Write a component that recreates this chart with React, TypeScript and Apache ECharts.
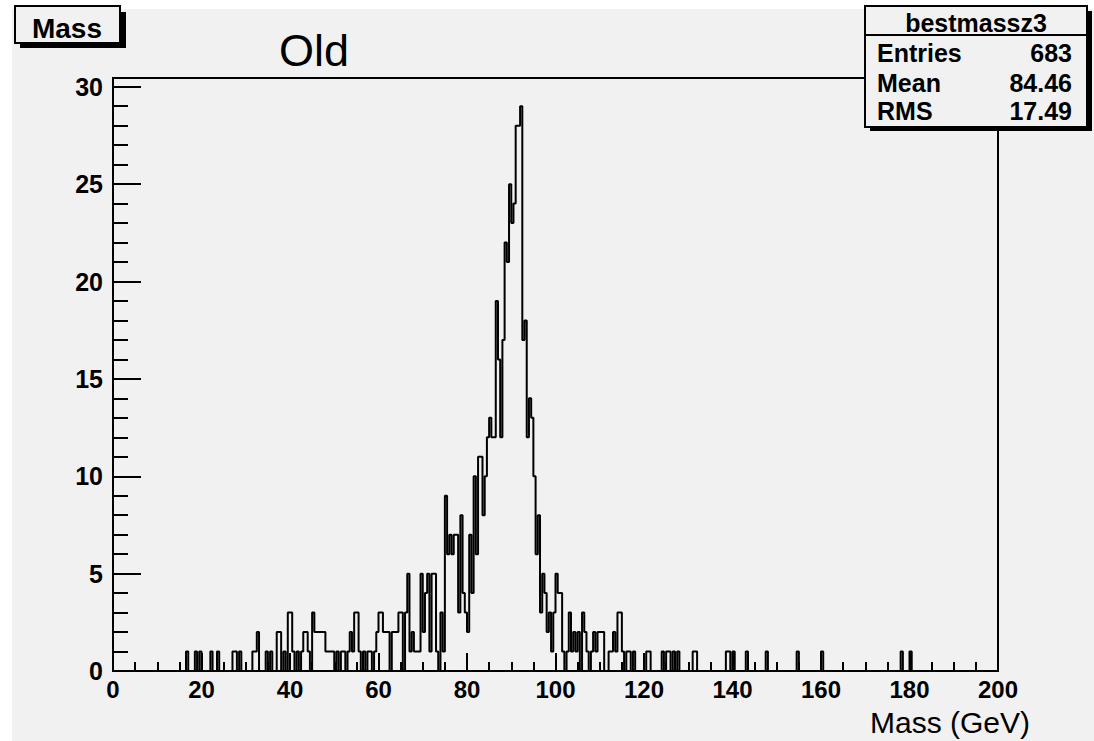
import React, { useEffect, useRef } from "react";
import * as echarts from "echarts";

// Histogram "bestmassz3": 0.5 GeV bins, counts per bin, grouped by 20 GeV
const binWidth = 0.5;
const bins0_20 = [
  0, 0, 0, 0, 0, 0, 0, 0, 0, 0, 0, 0, 0, 0, 0, 0, 0, 0, 0, 0,
  0, 0, 0, 0, 0, 0, 0, 0, 0, 0, 0, 0, 0, 1, 0, 0, 0, 1, 0, 1,
];
const bins20_40 = [
  0, 0, 0, 0, 1, 0, 0, 1, 0, 0, 0, 0, 0, 0, 1, 1, 0, 1, 0, 0,
  0, 0, 0, 1, 1, 2, 0, 0, 0, 1, 0, 1, 0, 0, 2, 2, 0, 1, 0, 3,
];
const bins40_60 = [
  3, 1, 0, 1, 0, 1, 2, 2, 1, 0, 3, 2, 2, 2, 2, 2, 1, 1, 1, 1,
  0, 1, 0, 1, 1, 0, 1, 2, 1, 3, 3, 1, 0, 1, 0, 1, 1, 0, 1, 2,
];
const bins60_80 = [
  3, 3, 2, 2, 2, 0, 2, 2, 2, 3, 3, 0, 3, 5, 1, 2, 1, 1, 1, 5,
  2, 4, 5, 1, 5, 5, 1, 0, 3, 1, 9, 6, 7, 6, 7, 7, 3, 8, 4, 3,
];
const bins80_100 = [
  2, 7, 4, 10, 6, 11, 11, 8, 10, 12, 13, 12, 12, 19, 16, 12, 17, 22, 21, 25,
  23, 24, 28, 28, 29, 17, 18, 12, 14, 13, 10, 6, 8, 3, 5, 4, 2, 3, 1, 3,
];
const bins100_120 = [
  5, 4, 4, 1, 0, 1, 3, 1, 2, 1, 2, 0, 3, 2, 1, 0, 1, 2, 1, 2,
  2, 2, 0, 0, 1, 1, 2, 1, 3, 3, 1, 0, 1, 1, 0, 1, 0, 0, 0, 0,
];
const bins120_140 = [
  0, 1, 1, 0, 0, 0, 0, 0, 1, 0, 1, 1, 0, 1, 0, 1, 0, 0, 0, 0,
  0, 0, 1, 1, 0, 0, 0, 0, 0, 0, 0, 0, 0, 0, 0, 0, 0, 1, 1, 0,
];
const bins140_160 = [
  1, 0, 0, 0, 0, 0, 1, 0, 0, 0, 0, 0, 0, 0, 0, 1, 0, 0, 0, 0,
  0, 0, 0, 0, 0, 0, 0, 0, 0, 1, 0, 0, 0, 0, 0, 0, 0, 0, 0, 0,
];
const bins160_180 = [
  1, 0, 0, 0, 0, 0, 0, 0, 0, 0, 0, 0, 0, 0, 0, 0, 0, 0, 0, 0,
  0, 0, 0, 0, 0, 0, 0, 0, 0, 0, 0, 0, 0, 0, 0, 0, 1, 0, 0, 0,
];
const bins180_200 = [
  1, 0, 0, 0, 0, 0, 0, 0, 0, 0, 0, 0, 0, 0, 0, 0, 0, 0, 0, 0,
  0, 0, 0, 0, 0, 0, 0, 0, 0, 0, 0, 0, 0, 0, 0, 0, 0, 0, 0, 0,
];

const histName = "bestmassz3";
const statLabels = ["Entries", "Mean", "RMS"];
const statValues = ["683", "84.46", "17.49"];
const xMin = 0;
const xMax = 200;
const xStep = 20;
const yMax = 30.45;
const yStep = 5;

const FONT = '"Liberation Sans", Arial, Helvetica, sans-serif';
const BG = "#f1f1f1";

export default function App() {
  const ref = useRef<HTMLDivElement>(null);

  useEffect(() => {
    if (!ref.current) return;
    const chart = echarts.init(ref.current, undefined, { renderer: "svg" });

    const allBins = [
      ...bins0_20, ...bins20_40, ...bins40_60, ...bins60_80, ...bins80_100,
      ...bins100_120, ...bins120_140, ...bins140_160, ...bins160_180, ...bins180_200,
    ];
    const pts: [number, number][] = [[xMin, 0]];
    allBins.forEach((c, i) => {
      const lo = xMin + i * binWidth;
      pts.push([lo, c], [lo + binWidth, c]);
    });
    pts.push([xMax, 0]);

    const txt = (
      text: string, x: number, y: number, font: string,
      align: string = "center"
    ) => ({
      type: "text",
      z: 101,
      style: {
        text, x, y, font, fill: "#000",
        align, verticalAlign: "middle",
        textAlign: align, textVerticalAlign: "middle",
      },
    });

    const statRowsY = [53, 83, 111];

    chart.setOption({
      animation: false,
      backgroundColor: BG,
      grid: {
        left: 113, top: 78, width: 885, height: 593,
        show: true, borderColor: "#000", borderWidth: 2,
        backgroundColor: "transparent",
      },
      xAxis: {
        type: "value", min: xMin, max: xMax, interval: xStep,
        axisLine: { show: true, onZero: false, lineStyle: { color: "#000", width: 2 } },
        axisTick: { show: true, inside: true, length: 18, lineStyle: { color: "#000", width: 2 } },
        minorTick: { show: true, splitNumber: 4, length: 9, lineStyle: { color: "#000", width: 2 } },
        axisLabel: { color: "#000", fontFamily: FONT, fontWeight: "bold", fontSize: 24, margin: 6 },
        splitLine: { show: false },
        minorSplitLine: { show: false },
      },
      yAxis: [
        {
          type: "value", min: 0, max: yMax, interval: 1, position: "left", offset: 0,
          axisLine: { show: true, onZero: false, lineStyle: { color: "#000", width: 2 } },
          axisTick: { show: true, inside: true, length: 15, lineStyle: { color: "#000", width: 2 } },
          axisLabel: { show: false },
          splitLine: { show: false },
        },
        {
          type: "value", min: 0, max: yMax, interval: yStep, position: "left", offset: 0,
          axisLine: { show: false },
          axisTick: { show: true, inside: true, length: 28, lineStyle: { color: "#000", width: 2 } },
          axisLabel: {
            color: "#000", fontFamily: FONT, fontWeight: "bold", fontSize: 25, margin: 10,
            showMaxLabel: false,
            formatter: (v: number) => (v % yStep === 0 ? String(v) : ""),
          },
          splitLine: { show: false },
        },
      ],
      series: [
        {
          type: "line",
          yAxisIndex: 0,
          data: pts,
          showSymbol: false,
          symbol: "none",
          clip: true,
          lineStyle: { color: "#000", width: 2 },
          z: 3,
        },
      ],
      graphic: [
        { type: "rect", z: 50, shape: { x: 0, y: 0, width: 1094, height: 9 }, style: { fill: "#fff" } },
        { type: "rect", z: 50, shape: { x: 0, y: 0, width: 12, height: 741 }, style: { fill: "#fff" } },
        // "Mass" title box with shadow
        { type: "rect", z: 100, shape: { x: 20, y: 12, width: 106, height: 36 }, style: { fill: "#000" } },
        { type: "rect", z: 100, shape: { x: 15, y: 6, width: 105, height: 37 }, style: { fill: BG, stroke: "#000", lineWidth: 2 } },
        txt("Mass", 67, 28, `bold 28px ${FONT}`),
        // annotation
        txt("Old", 314, 50, `45px ${FONT}`),
        // stats box with shadow
        { type: "rect", z: 100, shape: { x: 870, y: 11, width: 222, height: 120 }, style: { fill: "#000" } },
        { type: "rect", z: 100, shape: { x: 865, y: 6, width: 222, height: 121 }, style: { fill: BG, stroke: "#000", lineWidth: 2 } },
        { type: "line", z: 101, shape: { x1: 865, y1: 35, x2: 1087, y2: 35 }, style: { stroke: "#000", lineWidth: 2 } },
        txt(histName, 976, 23, `bold 25px ${FONT}`),
        ...statLabels.map((l, i) => txt(l, 877, statRowsY[i], `bold 25px ${FONT}`, "left")),
        ...statValues.map((v, i) => txt(v, 1072, statRowsY[i], `bold 25px ${FONT}`, "right")),
        // axis title
        txt("Mass (GeV)", 1030, 722, `30px ${FONT}`, "right"),
      ],
    });

    return () => chart.dispose();
  }, []);

  return (
    <div
      ref={ref}
      style={{ position: "fixed", left: 0, top: 0, width: 1094, height: 741 }}
    />
  );
}
